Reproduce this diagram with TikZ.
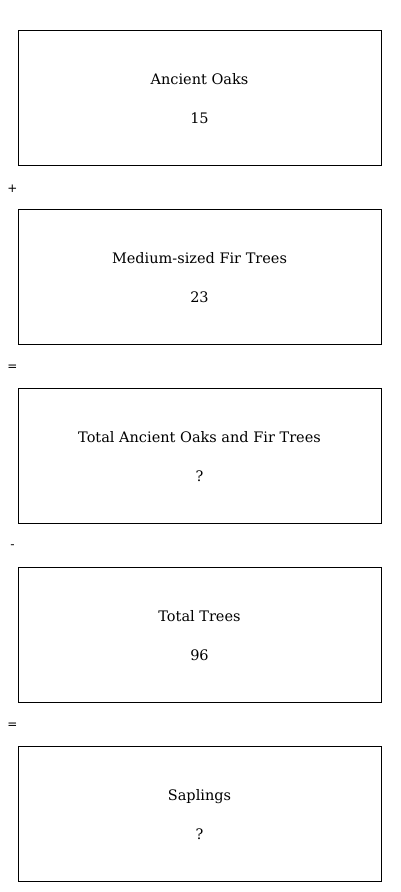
\documentclass[tikz,border=0pt]{standalone}
\usepackage{fontspec}
\setmainfont{DejaVu Serif}
\newfontfamily\opfont{DejaVu Sans}
\begin{document}
\begin{tikzpicture}[x=1pt, y=-1pt, font=\fontsize{14.5}{17}\selectfont,
    stepbox/.style={draw, line width=0.9pt, minimum width=363pt,
      minimum height=135pt, inner sep=0pt},
    opsign/.style={font=\opfont\fontsize{12}{14}\selectfont, inner sep=0pt}]
  \useasboundingbox (0,0) rectangle (400,892);
  \foreach \i/\t/\v in {0/Ancient Oaks/15, 1/Medium-sized Fir Trees/23,
      2/Total Ancient Oaks and Fir Trees/?, 3/Total Trees/96, 4/Saplings/?} {
    \node[stepbox] (box\i) at (199.5, 97.5+179*\i) {};
    \node[anchor=base] (lbl\i) at ([yshift=13.5pt]box\i.center) {\t};
    \node[anchor=base] (val\i) at ([yshift=-25.5pt]box\i.center) {\v};
  }
  \foreach \i/\o in {0/+, 1/=, 2/-, 3/=} {
    \node[opsign] (op\i) at (12.5, 189+179*\i) {\o};
  }
\end{tikzpicture}
\end{document}
